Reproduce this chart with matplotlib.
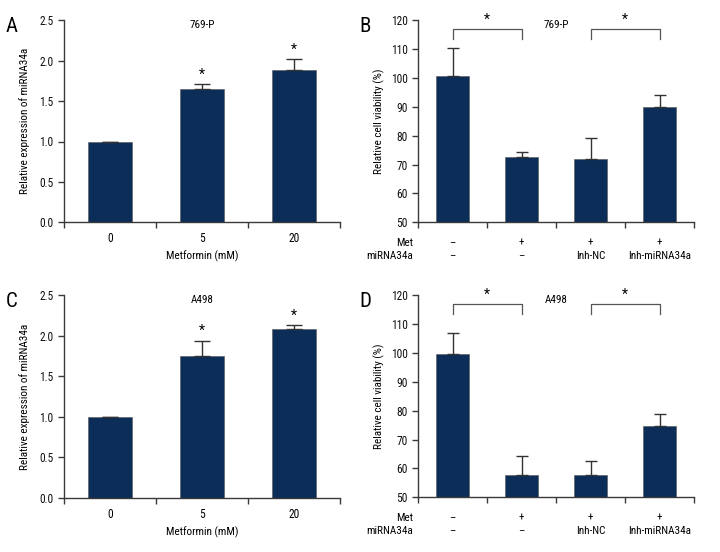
import matplotlib
matplotlib.use("Agg")
import matplotlib.pyplot as plt
import numpy as np

plt.rcParams['font.family'] = ['Liberation Sans Narrow', 'Roboto Condensed', 'Open Sans Condensed',
                               'Liberation Sans', 'DejaVu Sans']

# ---- data ----
dose_labels = ["0", "5", "20"]
expr_769p = [1.0, 1.65, 1.89]
expr_769p_err = [0.0, 0.06, 0.13]
expr_a498 = [1.0, 1.75, 2.08]
expr_a498_err = [0.0, 0.19, 0.05]

met_row = ["–", "+", "+", "+"]
mir_row = ["–", "–", "Inh-NC", "Inh-miRNA34a"]
via_769p = [100.7, 72.5, 71.8, 89.9]
via_769p_err = [9.8, 2.0, 7.5, 4.1]
via_a498 = [99.7, 57.6, 57.6, 74.7]
via_a498_err = [7.3, 6.7, 4.9, 4.0]

BAR = "#0b2d58"
AX = "#3a3a3a"
FS = 8.3
LFS = 8.0

fig = plt.figure(figsize=(7.2, 5.52), dpi=100)

def style(ax):
    for s in ["top", "right"]:
        ax.spines[s].set_visible(False)
    for s in ["left", "bottom"]:
        ax.spines[s].set_color(AX)
        ax.spines[s].set_linewidth(1.0)
    ax.tick_params(axis="both", colors=AX, labelcolor="#111111", labelsize=FS,
                   direction="out", length=4, width=1.0)

def expr_panel(rect, vals, errs, title, letter):
    ax = fig.add_axes(rect)
    style(ax)
    x = np.arange(len(vals)) + 0.5
    ax.bar(x, vals, width=0.48, color=BAR, edgecolor="#555555", linewidth=0.4, zorder=2)
    lo = np.zeros(len(vals))
    ax.errorbar(x, vals, yerr=[lo, errs], fmt="none", ecolor="#333333",
                elinewidth=1.0, capsize=6, capthick=1.0, zorder=3)
    for xi, v, e, lab in zip(x, vals, errs, dose_labels):
        if lab != "0":
            ax.text(xi, v + e + 0.03, "*", ha="center", va="bottom", fontsize=10)
    ax.set_xlim(0, 3)
    ax.set_ylim(0, 2.5)
    ticks = np.arange(0, 2.51, 0.5)
    ax.set_yticks(ticks)
    ax.set_yticklabels([f"{t:.1f}" for t in ticks])
    ax.set_xticks([0, 1, 2, 3])
    ax.set_xticklabels([])
    ax.set_xticks(x, minor=True)
    ax.set_xticklabels(dose_labels, minor=True)
    ax.tick_params(axis="x", which="minor", length=0, pad=7, labelsize=FS)
    ax.set_xlabel("Metformin (mM)", fontsize=LFS)
    ax.xaxis.set_label_coords(0.5, -0.14)
    ax.set_ylabel("Relative expression of miRNA34a", fontsize=LFS)
    ax.yaxis.set_label_coords(-0.123, 0.5)
    ax.text(0.5, 0.977, title, transform=ax.transAxes, ha="center", va="center", fontsize=LFS)
    ax.text(-0.19, 0.97, letter, transform=ax.transAxes, ha="center", va="center", fontsize=15)
    return ax

def via_panel(rect, vals, errs, title, letter):
    ax = fig.add_axes(rect)
    style(ax)
    x = np.arange(len(vals)) + 0.5
    ax.bar(x, vals, width=0.49, color=BAR, edgecolor="#555555", linewidth=0.4, zorder=2)
    lo = np.zeros(len(vals))
    ax.errorbar(x, vals, yerr=[lo, errs], fmt="none", ecolor="#333333",
                elinewidth=1.0, capsize=4.5, capthick=1.0, zorder=3)
    ax.set_xlim(0, 4)
    ax.set_ylim(50, 120)
    ax.set_yticks(np.arange(50, 121, 10))
    ax.set_xticks([0, 1, 2, 3, 4])
    ax.set_xticklabels([])
    trans = ax.get_xaxis_transform()
    for xi, m, r in zip(x, met_row, mir_row):
        ax.text(xi, -0.102, m, transform=trans, ha="center", va="center", fontsize=LFS)
        ax.text(xi, -0.166, r, transform=trans, ha="center", va="center", fontsize=LFS)
    ax.text(-0.018, -0.102, "Met", transform=ax.transAxes, ha="right", va="center", fontsize=LFS)
    ax.text(-0.018, -0.166, "miRNA34a", transform=ax.transAxes, ha="right", va="center", fontsize=LFS)
    ax.set_ylabel("Relative cell viability (%)", fontsize=LFS)
    ax.yaxis.set_label_coords(-0.12, 0.5)
    # significance brackets
    for (a, b) in [(0, 1), (2, 3)]:
        ax.plot([x[a], x[a], x[b], x[b]], [113.5, 116.9, 116.9, 113.5],
                color="#555555", lw=0.9, clip_on=False)
        ax.text((x[a] + x[b]) / 2, 117.6, "*", ha="center", va="bottom", fontsize=10)
    ax.text(0.5, 0.977, title, transform=ax.transAxes, ha="center", va="center", fontsize=LFS)
    ax.text(-0.19, 0.97, letter, transform=ax.transAxes, ha="center", va="center", fontsize=15)
    return ax

expr_panel([64/720, 1-222.3/552, 276/720, 202/552], expr_769p, expr_769p_err, "769-P", "A")
via_panel([418/720, 1-222.3/552, 276/720, 202/552], via_769p, via_769p_err, "769-P", "B")
expr_panel([64/720, 1-498/552, 276/720, 202.7/552], expr_a498, expr_a498_err, "A498", "C")
via_panel([418/720, 1-497.3/552, 276/720, 202/552], via_a498, via_a498_err, "A498", "D")

fig.savefig("out.png", dpi=100)
